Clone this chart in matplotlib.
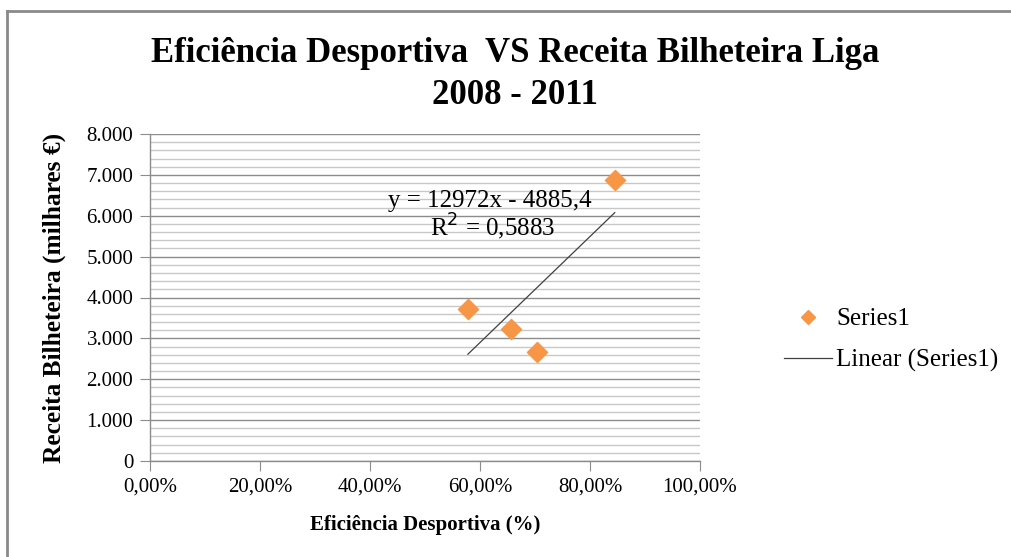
import numpy as np
import matplotlib
matplotlib.use('Agg')
import matplotlib.pyplot as plt
from matplotlib.lines import Line2D
from matplotlib.ticker import MultipleLocator, FuncFormatter

# Eficiência desportiva (fracção) e receita de bilheteira (milhares €)
eficiencia = [0.578, 0.656, 0.704, 0.845]
receita = [3716, 3227, 2665, 6870]

# coeficientes da linha de tendência
slope = 12972
intercept = -4885.4
r2 = 0.5883

plt.rcParams['font.family'] = ['Liberation Serif', 'DejaVu Serif']

fig = plt.figure(figsize=(10.11, 5.57), dpi=100)
ax = fig.add_axes([150 / 1011, 96 / 557, 550 / 1011, 327 / 557])

orange = '#F79646'
grid_major = '#8c8c8c'
grid_minor = '#c8c8c8'

ax.scatter(eficiencia, receita, marker='D', s=105, color=orange, zorder=3)

xt = np.array([min(eficiencia), max(eficiencia)])
ax.plot(xt, slope * xt + intercept, color='#404040', lw=0.9, zorder=2)

ax.set_xlim(0, 1)
ax.set_ylim(0, 8000)
ax.xaxis.set_major_locator(MultipleLocator(0.2))
ax.yaxis.set_major_locator(MultipleLocator(1000))
ax.yaxis.set_minor_locator(MultipleLocator(200))
ax.xaxis.set_major_formatter(FuncFormatter(lambda v, p: f'{v * 100:.2f}%'.replace('.', ',')))
ax.yaxis.set_major_formatter(FuncFormatter(lambda v, p: f'{int(v):,}'.replace(',', '.')))

ax.grid(which='major', axis='y', color=grid_major, lw=1.0)
ax.grid(which='minor', axis='y', color=grid_minor, lw=1.0)
ax.set_axisbelow(True)
for s in ['top', 'right']:
    ax.spines[s].set_visible(False)
for s in ['left', 'bottom']:
    ax.spines[s].set_color(grid_major)
    ax.spines[s].set_linewidth(1.0)
ax.tick_params(which='major', length=7, color=grid_major, labelsize=15, pad=5)
ax.tick_params(which='minor', length=0)

ax.set_xlabel('Eficiência Desportiva (%)', fontsize=15, fontweight='bold')
ax.set_ylabel('Receita Bilheteira (milhares €)', fontsize=18.3, fontweight='bold')
ax.xaxis.set_label_coords(0.5, -0.165)
ax.yaxis.set_label_coords(-0.152, 0.5)

ax.text(0.618, 6370, 'y = 12972x - 4885,4', fontsize=18, ha='center', va='center')
ax.text(0.622, 5730, f'R$^2$ = {r2:.4f}'.replace('.', ','), fontsize=18, ha='center', va='center')

fig.text(515 / 1011, 1 - 53 / 557, 'Eficiência Desportiva  VS Receita Bilheteira Liga',
         fontsize=25, fontweight='bold', ha='center', va='center')
fig.text(515 / 1011, 1 - 95 / 557, '2008 - 2011',
         fontsize=25, fontweight='bold', ha='center', va='center')

handles = [
    Line2D([], [], marker='D', ls='none', color=orange, markersize=7.5),
    Line2D([], [], color='#404040', lw=0.9),
]
fig.legend(handles, ['Series1', 'Linear (Series1)'], loc='center left',
           bbox_to_anchor=(784 / 1011, 1 - 340 / 557), frameon=False,
           fontsize=18, handlelength=1.9, handletextpad=0.2, labelspacing=0.75,
           borderpad=0, borderaxespad=0)

# moldura do gráfico
fig.add_artist(Line2D([7 / 1011, 7 / 1011], [0, 1 - 11 / 557], transform=fig.transFigure,
                      color='#8a8a8a', lw=2))
fig.add_artist(Line2D([7 / 1011, 1], [1 - 11 / 557, 1 - 11 / 557], transform=fig.transFigure,
                      color='#8a8a8a', lw=2))

fig.savefig('out.png', dpi=100)
